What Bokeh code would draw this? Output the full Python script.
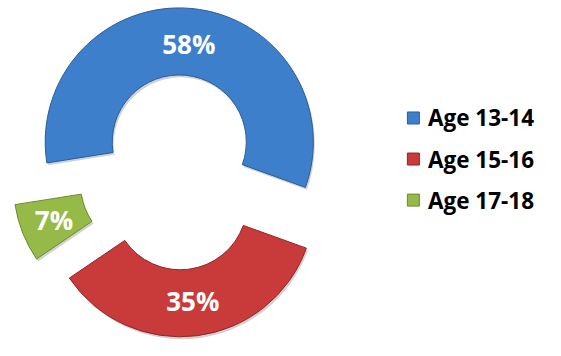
import numpy as np
from bokeh.plotting import figure
from bokeh.models import Range1d, ColumnDataSource
from bokeh.core.properties import value
from bokeh.embed import file_html
from bokeh.resources import INLINE

# ---- data ----
categories = ["Age 13-14", "Age 15-16", "Age 17-18"]
shares = [58, 35, 7]
labels = ["58%", "35%", "7%"]
colors = ["#3E7FCC", "#C93A3A", "#96BA47"]
edge_colors = ["#2B5C99", "#8E2626", "#6A8A2C"]

# ---- geometry (reference-image pixels, y measured upward) ----
W, H = 545, 340
REF_W, REF_H = 561, 356
first_angle = 261.0          # degrees clockwise from 12 o'clock
cx, cy = 181.0, REF_H - 180.0
explode = 32.0
R_out, R_in = 138.0, 69.0

vals = np.array(shares, dtype=float)
frac = vals / vals.sum()
theta_start = first_angle + 360.0 * np.concatenate([[0], np.cumsum(frac)[:-1]])
theta_end = theta_start + 360.0 * frac
theta_mid = np.radians((theta_start + theta_end) / 2)

xs = cx + explode * np.sin(theta_mid)
ys = cy + explode * np.cos(theta_mid)
start_angle = np.radians(90.0 - theta_end)
end_angle = np.radians(90.0 - theta_start)

rm = (R_out + R_in) / 2
lx = xs + rm * np.sin(theta_mid)
ly = ys + rm * np.cos(theta_mid)

src = ColumnDataSource(dict(x=xs, y=ys, sx=xs + 1.5, sy=ys - 2.5,
                            sa=start_angle, ea=end_angle,
                            color=colors, edge=edge_colors,
                            lx=lx, ly=ly, label=labels))

p = figure(width=W, height=H, output_backend="svg", toolbar_location=None,
           x_range=Range1d(0, REF_W), y_range=Range1d(0, REF_H),
           min_border=0, x_axis_location=None, y_axis_location=None)
p.grid.visible = False
p.outline_line_color = None
p.background_fill_color = "white"

# soft shadow
p.annular_wedge(x="sx", y="sy", inner_radius=R_in, outer_radius=R_out,
                start_angle="sa", end_angle="ea", fill_color="#000000",
                fill_alpha=0.18, line_color=None, source=src)

p.annular_wedge(x="x", y="y", inner_radius=R_in, outer_radius=R_out,
                start_angle="sa", end_angle="ea", fill_color="color",
                line_color="edge", line_width=1, source=src)

p.text(x="lx", y="ly", text="label", text_align="center", text_baseline="middle",
       text_color="white", text_font=value("Open Sans"), text_font_style="bold",
       text_font_size="26px", source=src)

# ---- legend ----
leg_y = [REF_H - 123, REF_H - 166, REF_H - 209]
leg_src = ColumnDataSource(dict(x=[425] * 3, tx=[440] * 3, y=leg_y,
                                color=colors, edge=edge_colors, name=categories))
p.scatter(x="x", y="y", marker="square", size=12, fill_color="color",
          line_color="edge", source=leg_src)
p.text(x="tx", y="y", text="name", text_align="left", text_baseline="middle",
       text_color="black", text_font=value("Open Sans"), text_font_style="bold",
       text_font_size="22.5px", source=leg_src)

open("out.html", "w").write(file_html(p, INLINE))
